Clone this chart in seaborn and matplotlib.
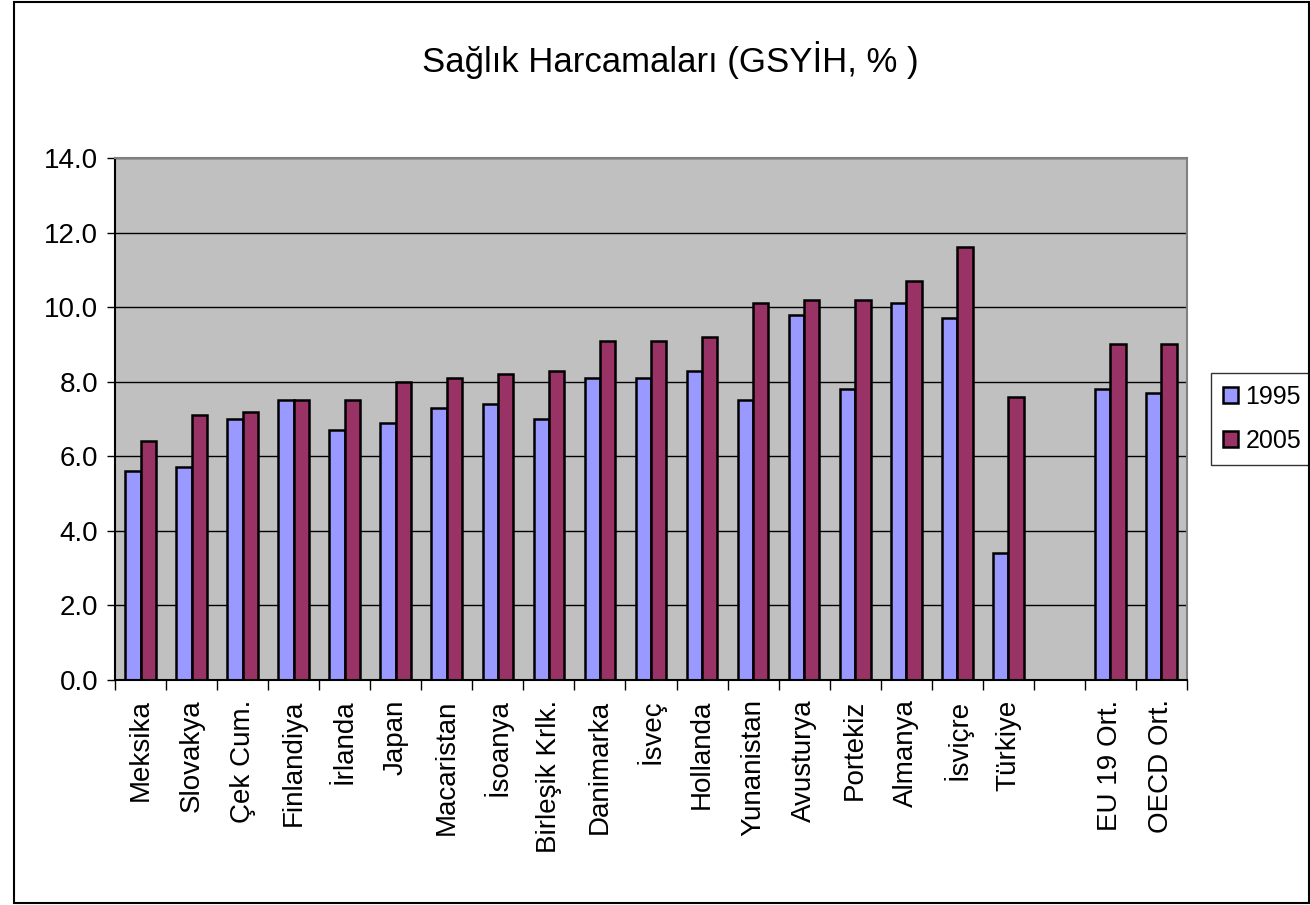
import numpy as np
import pandas as pd
import seaborn as sns
import matplotlib.pyplot as plt
from matplotlib.patches import Rectangle
from matplotlib.ticker import FormatStrFormatter

countries = ['Meksika', 'Slovakya', 'Çek Cum.', 'Finlandiya', 'İrlanda', 'Japan',
             'Macaristan', 'İsoanya', 'Birleşik Krlk.', 'Danimarka', 'İsveç',
             'Hollanda', 'Yunanistan', 'Avusturya', 'Portekiz', 'Almanya',
             'İsviçre', 'Türkiye', ' ', 'EU 19 Ort.', 'OECD Ort.']
v1995 = [5.6, 5.7, 7.0, 7.5, 6.7, 6.9, 7.3, 7.4, 7.0, 8.1, 8.1,
         8.3, 7.5, 9.8, 7.8, 10.1, 9.7, 3.4, np.nan, 7.8, 7.7]
v2005 = [6.4, 7.1, 7.2, 7.5, 7.5, 8.0, 8.1, 8.2, 8.3, 9.1, 9.1,
         9.2, 10.1, 10.2, 10.2, 10.7, 11.6, 7.6, np.nan, 9.0, 9.0]
years = ['1995', '2005']

df = pd.DataFrame({
    'ulke': countries * 2,
    'yil': ['1995'] * len(countries) + ['2005'] * len(countries),
    'deger': v1995 + v2005,
})

sns.set_style('white')
plt.rcParams['font.family'] = ['Liberation Sans', 'DejaVu Sans']
plt.rcParams['text.color'] = 'black'
plt.rcParams['xtick.color'] = 'black'
plt.rcParams['ytick.color'] = 'black'

fig = plt.figure(figsize=(13.1, 9.05), dpi=100)
ax = fig.add_axes([115 / 1310, 1 - 680 / 905, 1072 / 1310, 522 / 905])

sns.barplot(data=df, x='ulke', y='deger', hue='yil', order=countries,
            hue_order=years, palette=['#9999FF', '#993366'], width=0.6,
            edgecolor='black', linewidth=1.8, saturation=1, errorbar=None, ax=ax)

ax.set_facecolor('#C0C0C0')
ax.set_ylim(0, 14)
ax.set_xlim(-0.5, len(countries) - 0.5)
ax.set_yticks(np.arange(0, 14.1, 2))
ax.yaxis.set_major_formatter(FormatStrFormatter('%.1f'))
ax.yaxis.grid(True, color='black', linewidth=1)
ax.set_axisbelow(True)
for s in ax.spines.values():
    s.set_color('#808080')
    s.set_linewidth(1.5)
ax.spines['left'].set_color('black')
ax.spines['bottom'].set_color('black')

ax.set_xticks(range(len(countries)))
ax.set_xticklabels(countries, rotation=90, fontsize=20)
ax.set_xticks(np.arange(-0.5, len(countries), 1), minor=True)
ax.tick_params(axis='x', which='major', length=0, pad=14)
ax.tick_params(axis='x', which='minor', length=7, color='black', width=1, bottom=True)
ax.tick_params(axis='y', length=6, color='black', width=1, left=True, labelsize=20, pad=6)
ax.set_xlabel('')
ax.set_ylabel('')

ax.legend(loc='center left', bbox_to_anchor=(1.022, 0.5), fontsize=18, frameon=True,
          fancybox=False, edgecolor='black', handlelength=0.6, handleheight=0.6,
          handletextpad=0.3, labelspacing=0.8, borderpad=0.5, borderaxespad=0)

fig.suptitle('Sağlık Harcamaları (GSYİH, % )', x=670 / 1310, y=0.955, fontsize=25)
fig.patches.append(Rectangle((14 / 1310, 0.002), 1 - 14 / 1310 - 0.001, 0.996,
                             transform=fig.transFigure, fill=False,
                             edgecolor='black', linewidth=1.5))

fig.savefig('out.png', dpi=100)
